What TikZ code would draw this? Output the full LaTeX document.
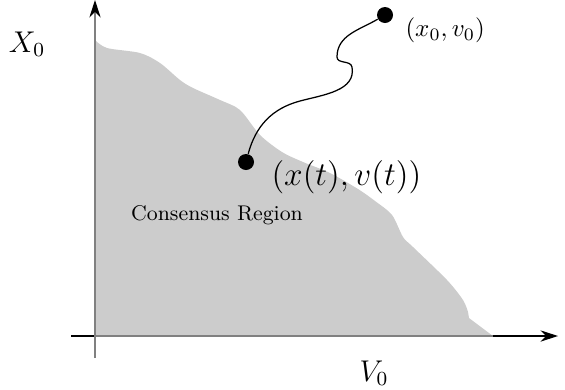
\documentclass[tikz,border=0pt]{standalone}
\usetikzlibrary{arrows.meta,positioning}
\definecolor{regiongray}{HTML}{CCCCCC}
\definecolor{axisgray}{HTML}{808080}
\tikzset{dot/.style={circle,fill=black,inner sep=0pt,minimum size=6.4pt},
  axis/.style={-{Stealth[length=7pt,width=4.5pt,color=black]},line width=0.5pt},
  lbl/.style={inner sep=0pt}}

\begin{document}
\begin{tikzpicture}[x=0.4pt,y=0.4pt]
\useasboundingbox (0,0) rectangle (565,389);
% consensus region
\fill[regiongray] plot[smooth] coordinates {(95,349) (107,341) (140,336) (160,326)
  (180,309) (193,301) (220,289) (240,279) (260,254) (282,237) (303,227) (330,216)
  (358,200) (375,188) (392,174) (403,152) (413,142) (447,109) (463,89) (468,77)}
  -- (469,71) -- (493,53) -- (95,53) -- cycle;
% axes
\coordinate (vstart) at (71,53);
\coordinate (vend) at (558,53);
\coordinate (xstart) at (95,31);
\coordinate (xend) at (95,389);
\draw[axis] (vstart) -- (vend);
\draw[axis,draw=axisgray] (xstart) -- (xend);
\draw[axisgray,line width=0.5pt] (95,53) -- (493,53);
\node[lbl,font=\large] (xlab) at (27,345) {$X_0$};
\node[lbl,font=\large] (vlab) at (374,16) {$V_0$};
% trajectory
\node[dot] (x0) at (385,374) {};
\node[dot] (xt) at (246,227) {};
\node[lbl,anchor=west] (x0lab) at (405,359) {$(x_0,v_0)$};
\node[lbl,anchor=west,font=\large,scale=1.11,transform shape] (xtlab) at (271,212) {$(x(t),v(t))$};
\node[lbl,font=\fontsize{8.5}{10}\selectfont] (region) at (217,174) {Consensus Region};
\coordinate (c1) at (300,288);
\coordinate (c2) at (352,322);
\coordinate (c3) at (337,332);
\draw[line width=0.5pt] (xt) to[out=75,in=195] (c1) to[out=15,in=-80] (c2)
  to[out=100,in=-90] (c3) to[out=90,in=210] (x0);
\end{tikzpicture}
\end{document}
